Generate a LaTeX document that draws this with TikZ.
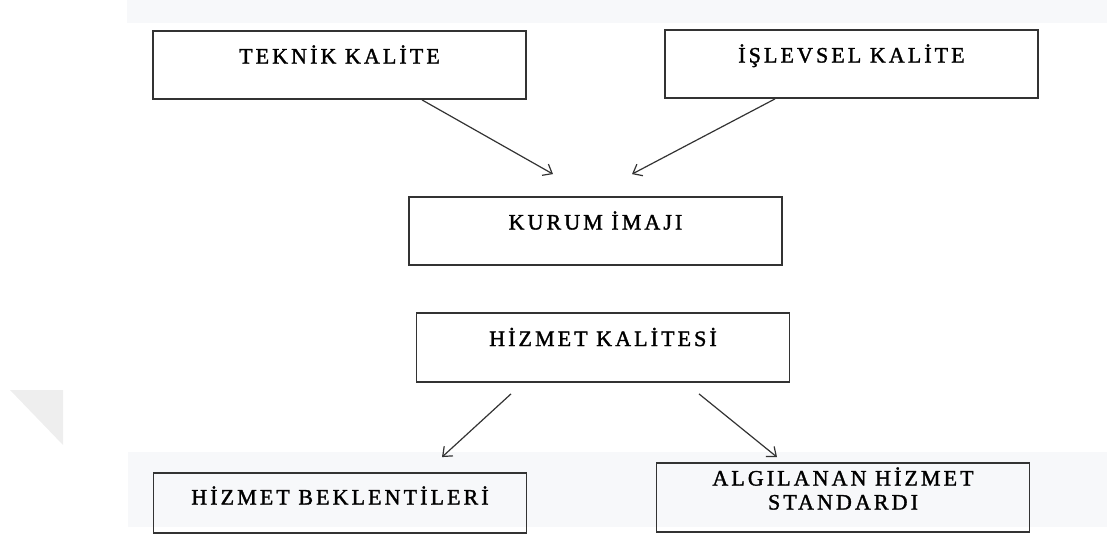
\documentclass[tikz,border=0pt]{standalone}
\usepackage{fontspec}
\setmainfont{Liberation Serif}
\newfontfamily\boxfont{Liberation Serif}[LetterSpace=14, FakeBold=1.5]
\usetikzlibrary{arrows.meta, positioning}
\definecolor{bandgray}{HTML}{F7F8FA}
\definecolor{markgray}{HTML}{EEEEEE}
\definecolor{linegray}{HTML}{333333}
\tikzset{
    box style/.style = {
        draw=linegray, line width=1.8pt,
        minimum width=373pt, minimum height=68pt, inner sep=0pt,
        font=\boxfont\fontsize{22}{24}\selectfont,
        text height=15pt, text depth=18pt
    },
    flow/.style = {
        draw=linegray, line width=1.2pt,
        -{Straight Barb[length=8pt, width=13pt]}
    }
}

\begin{document}
\begin{tikzpicture}[x=1pt, y=-1pt]
        \useasboundingbox (0, 0) rectangle (1107, 536);

        % page background pieces
        \fill[bandgray] (127, 0) rectangle (1107, 23);
        \fill[bandgray] (128, 452) rectangle (1107, 527);
        \fill[markgray] (10, 390) -- (63, 390) -- (63, 445) -- cycle;

        \node[box style] (teknik) at (339.5, 65) {TEKNİK KALİTE};
        \node[box style] (islevsel) at (851.5, 64) {İŞLEVSEL KALİTE};
        \node[box style] (kurum) at (595.5, 231) {KURUM İMAJI};
        \node[box style, minimum height=69pt] (hizmet) at (603, 347.5) {HİZMET KALİTESİ};
        \node[box style, minimum height=60pt, text depth=12pt] (beklenti) at (340, 503) {HİZMET BEKLENTİLERİ};
        \node[box style, minimum height=69pt, text height=42pt, align=center] (algilanan) at (843, 497.5) {ALGILANAN HİZMET\\STANDARDI};

        \coordinate (kurumL) at ([xshift=-42.5pt, yshift=22pt]kurum.north);
        \coordinate (kurumR) at ([xshift=36.5pt, yshift=22pt]kurum.north);
        \coordinate (beklentiIn) at ([xshift=102pt, yshift=15pt]beklenti.north);
        \coordinate (algilananIn) at ([xshift=-66pt, yshift=5pt]algilanan.north);

        \draw[flow] ([xshift=82.5pt]teknik.south) -- (kurumL);
        \draw[flow] ([xshift=-76.5pt]islevsel.south) -- (kurumR);
        \draw[flow] ([xshift=-92pt, yshift=-11pt]hizmet.south) -- (beklentiIn);
        \draw[flow] ([xshift=96pt, yshift=-11pt]hizmet.south) -- (algilananIn);
    \end{tikzpicture}
\end{document}
